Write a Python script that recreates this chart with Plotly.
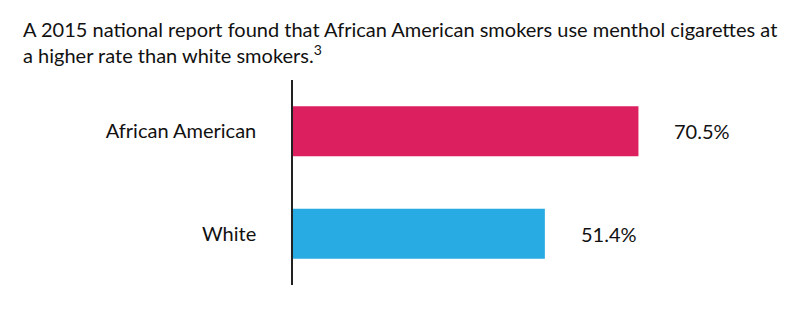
import plotly.graph_objects as go

categories = ["African American", "White"]
values = [70.5, 51.4]
labels = ["70.5%", "51.4%"]
colors = ["#DC1F5F", "#27ABE2"]

FONT = "Lato"
FS = 20

fig = go.Figure(go.Bar(
    x=values, y=categories, orientation="h",
    marker=dict(color=colors, line=dict(width=0)),
    width=0.49, hoverinfo="skip",
))

for v, lab, c in zip(values, labels, categories):
    fig.add_annotation(x=v, y=c, text=lab, showarrow=False, xanchor="left",
                       xshift=34, font=dict(family=FONT, size=FS, color="#111111"))

fig.add_annotation(xref="paper", yref="paper", x=(21 - 293) / 490, y=1 + 65 / 205,
                   xanchor="left", yanchor="top", align="left", showarrow=False,
                   text="A 2015 national report found that African American smokers use menthol cigarettes at<br>a higher rate than white smokers.<sup>3</sup>",
                   font=dict(family=FONT, size=FS, color="#111111"))

fig.update_layout(
    width=800, height=319,
    margin=dict(l=293, r=17, t=80, b=34),
    plot_bgcolor="white", paper_bgcolor="white",
    showlegend=False,
    xaxis=dict(range=[0, 100], visible=False, fixedrange=True),
    yaxis=dict(autorange="reversed", showline=True, linecolor="#222", linewidth=1.5,
               showgrid=False, zeroline=False, ticks="", ticklabelstandoff=31,
               tickfont=dict(family=FONT, size=FS, color="#111111")),
)

fig.write_html("out.html")
